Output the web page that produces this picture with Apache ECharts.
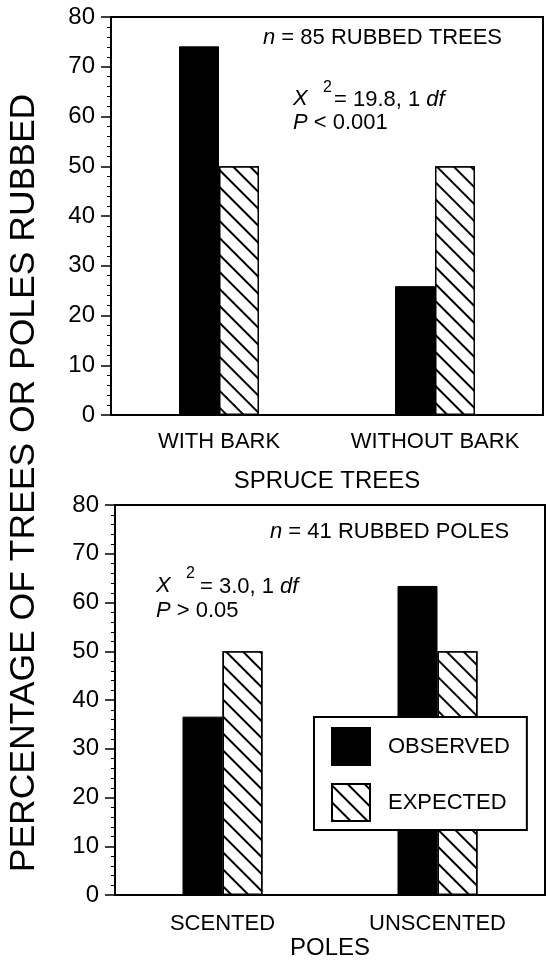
<!DOCTYPE html>
<html>
<head>
<meta charset="utf-8">
<script src="https://cdn.jsdelivr.net/npm/echarts@6/dist/echarts.min.js"></script>
<style>
  html, body { margin: 0; padding: 0; background: #fff; }
  #chart { width: 551px; height: 961px; }
</style>
</head>
<body>
<div id="chart"></div>
<script>
const treeCats = ["WITH BARK", "WITHOUT BARK"];
const treeObserved = [74.1, 25.9];
const treeExpected = [50, 50];
const poleCats = ["SCENTED", "UNSCENTED"];
const poleObserved = [36.6, 63.4];
const poleExpected = [50, 50];
const yMin = 0, yMax = 80, yStep = 10;

const FONT = "Liberation Sans, Arial, Helvetica, sans-serif";
const hatch = {
  symbol: "rect",
  symbolSize: 1,
  dashArrayX: [1, 0],
  dashArrayY: [2, 10],
  rotation: Math.PI / 4,
  color: "#000",
  backgroundColor: "#fff",
};

const myChart = echarts.init(document.getElementById("chart"));

function xAx(gridIndex, cats, name, nameGap, margin) {
  return {
    type: "category",
    gridIndex,
    data: cats,
    name,
    nameLocation: "middle",
    nameGap,
    nameTextStyle: { color: "#000", fontSize: 24, fontFamily: FONT },
    axisLine: { lineStyle: { color: "#000", width: 2 } },
    axisTick: { length: 9, interval: 0, lineStyle: { color: "#000", width: 1.5 } },
    axisLabel: { color: "#000", fontSize: 22, fontFamily: FONT, margin, interval: 0 },
  };
}
function yAx(gridIndex) {
  return {
    type: "value",
    gridIndex,
    min: yMin,
    max: yMax,
    interval: yStep,
    splitLine: { show: false },
    axisLine: { show: true, lineStyle: { color: "#000", width: 2 } },
    axisTick: { show: true, length: 10, lineStyle: { color: "#000", width: 1.5 } },
    minorTick: { show: true, splitNumber: 5, length: 4, lineStyle: { color: "#000", width: 1 } },
    axisLabel: { color: "#000", fontSize: 24, fontFamily: FONT, margin: 16 },
  };
}
function obs(i, data) {
  return {
    name: "OBSERVED", type: "bar", xAxisIndex: i, yAxisIndex: i, data,
    barWidth: 40, barGap: "0%",
    itemStyle: { color: "#000", borderColor: "#000", borderWidth: 1 },
    emphasis: { disabled: true },
  };
}
function exp(i, data) {
  return {
    name: "EXPECTED", type: "bar", xAxisIndex: i, yAxisIndex: i, data,
    barWidth: 40, barGap: "0%",
    itemStyle: { color: "#fff", borderColor: "#000", borderWidth: 1.5, decal: hatch },
    emphasis: { disabled: true },
  };
}

function txt(x, y, text, size, style) {
  return {
    type: "text", x, y, z: 100,
    style: Object.assign({
      text, fill: "#000", fontSize: size || 22, fontFamily: FONT,
      textVerticalAlign: "middle",
    }, style || {}),
  };
}
const rich = {
  i: { fontStyle: "italic", fontSize: 22, fontFamily: FONT },
};

option = {
  animation: false,
  backgroundColor: "#fff",
  grid: [
    { left: 111, top: 17, width: 432, height: 398, show: true, borderColor: "#000", borderWidth: 2 },
    { left: 115, top: 505, width: 430, height: 391, show: true, borderColor: "#000", borderWidth: 2 },
  ],
  xAxis: [
    xAx(0, treeCats, "SPRUCE TREES", 54, 16),
    xAx(1, poleCats, "POLES", 38, 18),
  ],
  yAxis: [yAx(0), yAx(1)],
  legend: {
    orient: "vertical",
    left: 314, top: 717,
    padding: [10, 17, 8, 17],
    itemWidth: 38, itemHeight: 37, itemGap: 17,
    backgroundColor: "#fff",
    borderColor: "#000", borderWidth: 2,
    z: 50,
    icon: "rect",
    textStyle: { color: "#000", fontSize: 22, fontFamily: FONT, padding: [0, 0, 0, 13] },
    data: ["OBSERVED", "EXPECTED"],
    selectedMode: false,
  },
  series: [
    obs(0, treeObserved), exp(0, treeExpected),
    obs(1, poleObserved), exp(1, poleExpected),
  ],
  graphic: [
    {
      type: "text", x: 24, y: 483, rotation: Math.PI / 2, z: 100,
      style: {
        text: "PERCENTAGE OF TREES OR POLES RUBBED", fill: "#000",
        fontSize: 35.5, fontFamily: FONT, textAlign: "center", textVerticalAlign: "middle",
      },
    },
    txt(263, 38, "{i|n} = 85 RUBBED TREES", 22, { rich }),
    txt(293, 99, "{i|X}", 22, { rich }),
    txt(323, 88, "2", 16),
    txt(334, 100, "= 19.8, 1 {i|df}", 22, { rich }),
    txt(293, 123, "{i|P} < 0.001", 22, { rich }),
    txt(270, 532, "{i|n} = 41 RUBBED POLES", 22, { rich }),
    txt(156, 586, "{i|X}", 22, { rich }),
    txt(186, 574, "2", 16),
    txt(200, 587, "= 3.0, 1 {i|df}", 22, { rich }),
    txt(156, 611, "{i|P} > 0.05", 22, { rich }),
  ],
};

option && myChart.setOption(option);
</script>
</body>
</html>
